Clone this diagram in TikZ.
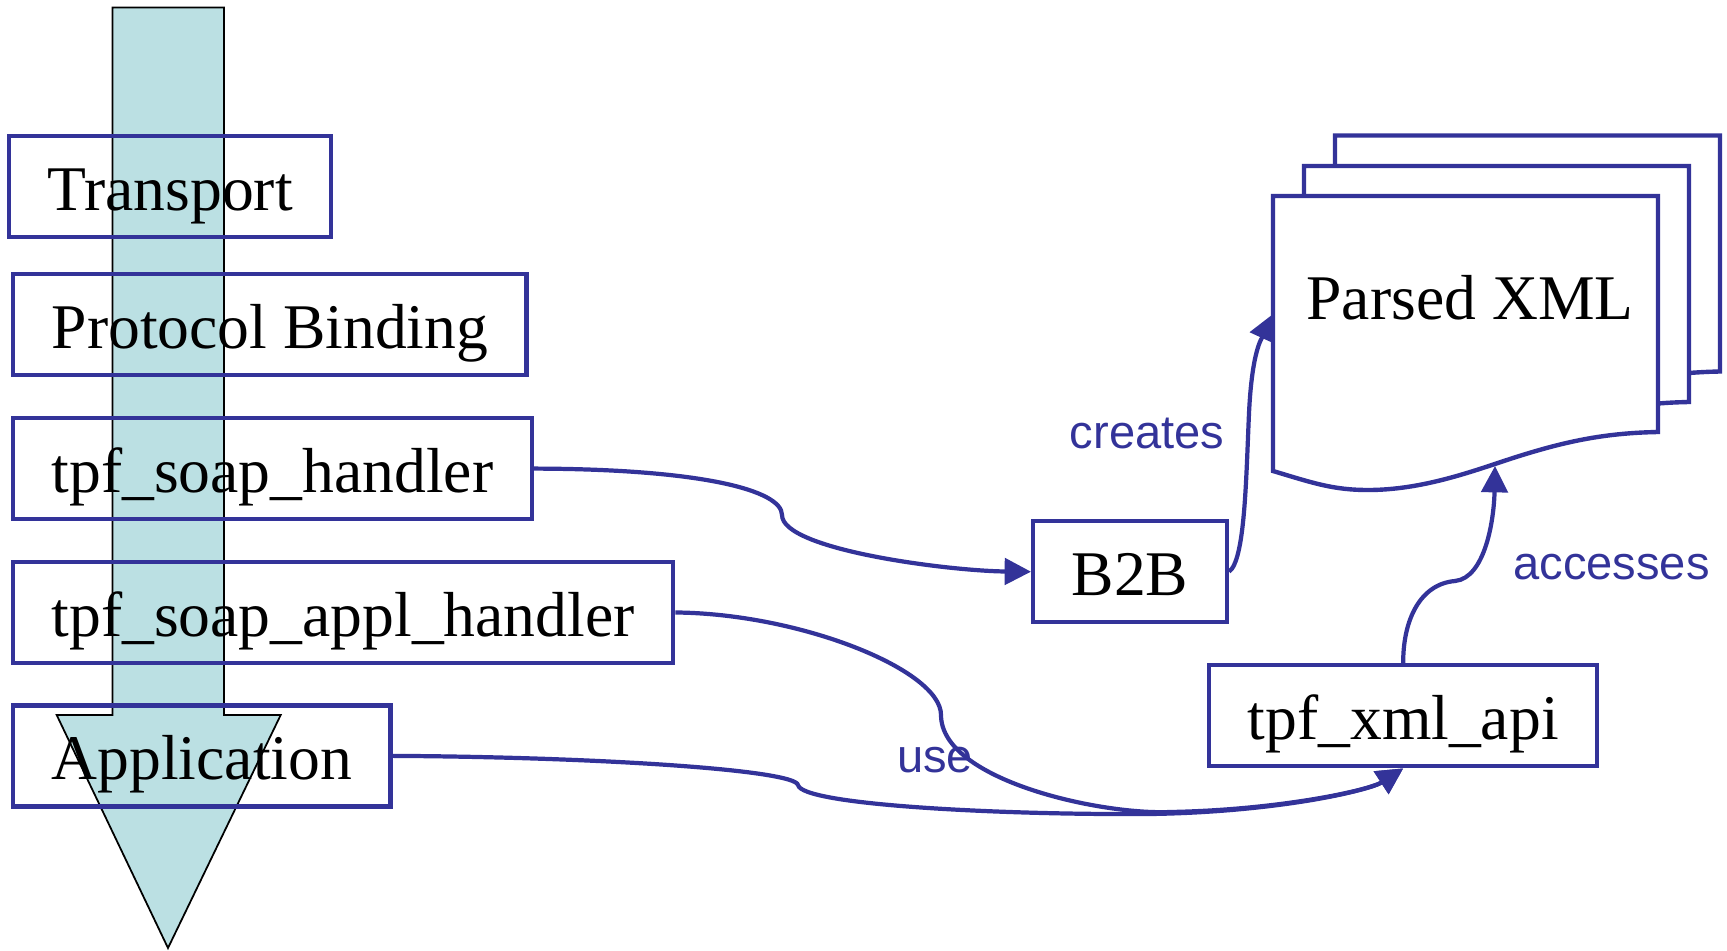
\documentclass[tikz,border=0pt]{standalone}
\usepackage{fontspec}
\setmainfont{Liberation Serif}
\setsansfont{Liberation Sans}
\usepackage{tikz}
\usetikzlibrary{arrows.meta}
\definecolor{pptblue}{HTML}{333399}
\definecolor{pptfill}{HTML}{BBE0E3}

% One sheet of the parsed XML stack
\newcommand{\xmlsheet}[2]{%
  \path[xmlpage, shift={(#1,#2)}] (0,0) -- (3.85,0) -- (3.85,-2.36)
    .. controls (3.30,-2.37) and (2.90,-2.46) .. (2.40,-2.62)
    .. controls (2.00,-2.75) and (1.50,-2.94) .. (0.95,-2.94)
    .. controls (0.60,-2.94) and (0.40,-2.87) .. (0,-2.75) -- cycle;}

\begin{document}
\begin{tikzpicture}

\useasboundingbox (0,0) rectangle (17.27,-9.5);

% Define block styles
\tikzstyle{stackbox} = [draw=pptblue, line width=1.25pt, text height=0.745cm,
  text depth=0.265cm, inner xsep=0.385cm, inner ysep=0pt,
  font=\fontsize{18.1}{20}\selectfont]
\tikzstyle{verblabel} = [anchor=base, text=pptblue,
  font=\sffamily\fontsize{13.4}{16}\selectfont]
\tikzstyle{line} = [draw=pptblue, line width=1.2pt,
  -{Triangle[length=7.5pt,width=7.5pt]}]
\tikzstyle{flow} = [draw=black, line width=0.5pt, fill=pptfill]
\tikzstyle{xmlpage} = [draw=pptblue, line width=1.25pt, fill=white]

% Big downward arrow behind the stack
\path[flow] (1.125,-0.075) -- (2.24,-0.075) -- (2.24,-7.15) -- (2.807,-7.15)
  -- (1.68,-9.48) -- (0.567,-7.15) -- (1.125,-7.15) -- cycle;

% Draw diagram elements
\path (0.07,-1.34) node[anchor=north west, stackbox] (tr) {Transport};
\path (0.11,-2.72) node[anchor=north west, stackbox] (pb) {Protocol Binding};
\path (pb.south west)+(0,-0.385) node[anchor=north west, stackbox] (sh)
  {tpf\_soap\_handler};
\path (sh.south west)+(0,-0.385) node[anchor=north west, stackbox] (ah)
  {tpf\_soap\_appl\_handler};
\path (ah.south west)+(0,-0.38) node[anchor=north west, stackbox] (app)
  {Application};

\path (10.31,-5.19) node[anchor=north west, stackbox] (b2b) {B2B};
\path (12.07,-6.63) node[anchor=north west, stackbox] (api) {tpf\_xml\_api};

% Stack of parsed documents, back to front
\xmlsheet{13.35}{-1.355}
\xmlsheet{13.04}{-1.66}
\xmlsheet{12.73}{-1.96}
\path (14.70,-3.19) node[anchor=base, font=\fontsize{18.1}{20}\selectfont] (px)
  {Parsed XML};
\coordinate (px-in) at (12.73,-3.14);
\coordinate (px-bot) at (14.95,-4.66);

% Labels
\path (11.47,-4.48) node[verblabel] (cr) {creates};
\path (16.115,-5.79) node[verblabel] (ac) {accesses};
\path (9.35,-7.72) node[verblabel] (us) {use};

% Connectors
\path[line] (sh.east) .. controls (7.00,-4.69) and (7.82,-4.90) .. (7.82,-5.15)
  .. controls (7.82,-5.50) and (9.50,-5.71) .. (b2b.west);
\path[line] (b2b.east) .. controls (12.45,-5.60) and (12.46,-4.80) .. (12.49,-4.13)
  .. controls (12.52,-3.50) and (12.62,-3.38) .. (px-in);
\path[line] (api.north) .. controls (14.03,-6.20) and (14.20,-5.84) .. (14.55,-5.81)
  .. controls (14.85,-5.78) and (14.94,-5.20) .. (px-bot);
\path[line] (ah.east) .. controls (8.00,-6.135) and (9.41,-6.70) .. (9.41,-7.15)
  .. controls (9.41,-7.80) and (11.00,-8.15) .. (11.70,-8.12)
  .. controls (12.80,-8.10) and (13.70,-7.90) .. (api.south);
\path[line] (app.east) .. controls (6.00,-7.57) and (7.95,-7.70) .. (7.98,-7.85)
  .. controls (8.02,-8.05) and (10.00,-8.15) .. (11.50,-8.14)
  .. controls (12.80,-8.12) and (13.70,-7.90) .. (api.south);

\end{tikzpicture}
\end{document}
